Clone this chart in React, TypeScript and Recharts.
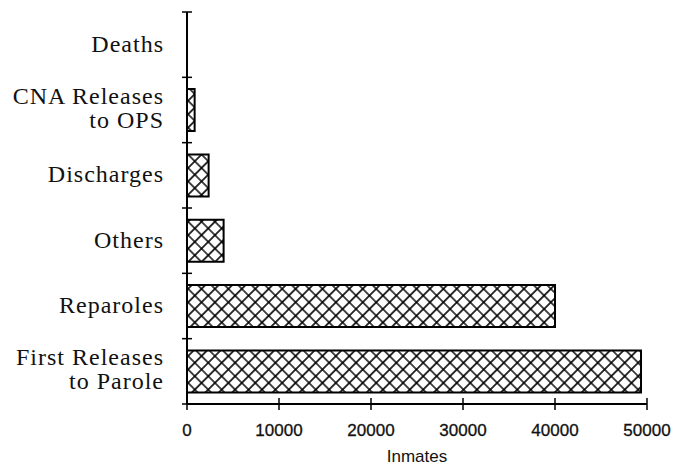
import { BarChart, Bar, XAxis, YAxis } from "recharts";

// release types, top to bottom
const categories = [
  "Deaths",
  "CNA Releases\nto OPS",
  "Discharges",
  "Others",
  "Reparoles",
  "First Releases\nto Parole",
];
const inmates = [0, 830, 2350, 3980, 40000, 49350];
const xTicks = [0, 10000, 20000, 30000, 40000, 50000];
const xLabel = "Inmates";

const data = categories.map((name, i) => ({ name, inmates: inmates[i] }));

const W = 676;
const H = 467;
const MARGIN = { top: 12, right: 29, left: 0, bottom: 0 };
const Y_WIDTH = 187;
const X_HEIGHT = 63;
const BAND = (H - MARGIN.top - MARGIN.bottom - X_HEIGHT) / categories.length;

const serif = "'Liberation Serif', 'Times New Roman', serif";
const sans = "'Liberation Sans', Arial, sans-serif";

function CategoryTick(props: any) {
  const { x, y, payload, index } = props;
  const lines = String(payload.value).split("\n");
  const tx = x - 23;
  return (
    <g>
      <line x1={x - 5} x2={x + 5} y1={y - BAND / 2} y2={y - BAND / 2} stroke="#000" strokeWidth={1.5} />
      {index === categories.length - 1 && (
        <line x1={x - 5} x2={x + 5} y1={y + BAND / 2} y2={y + BAND / 2} stroke="#000" strokeWidth={1.5} />
      )}
      <text
        textAnchor="end"
        fontFamily={serif}
        fontSize={24}
        letterSpacing={1}
        fill="#111"
      >
        {lines.length === 1 ? (
          <tspan x={tx} y={y + 7}>{lines[0]}</tspan>
        ) : (
          lines.map((l, i) => (
            <tspan key={i} x={tx} y={y - 6 + i * 24}>{l}</tspan>
          ))
        )}
      </text>
    </g>
  );
}

function ValueTick(props: any) {
  const { x, y, payload } = props;
  return (
    <g>
      <line x1={x} x2={x} y1={y - 6} y2={y + 6} stroke="#000" strokeWidth={1.5} />
      <text
        x={x}
        y={y + 32}
        textAnchor="middle"
        fontFamily={sans}
        fontSize={17}
        fill="#111"
        stroke="#111"
        strokeWidth={0.3}
      >
        {payload.value}
      </text>
    </g>
  );
}

export default function App() {
  return (
    <div style={{ position: "absolute", left: 0, top: 0, width: W, height: H, background: "#fff" }}>
      <BarChart
        width={W}
        height={H}
        data={data}
        layout="vertical"
        margin={MARGIN}
        barCategoryGap="18%"
      >
        <defs>
          <pattern
            id="crosshatch"
            patternUnits="userSpaceOnUse"
            width={9.5}
            height={9.5}
            patternTransform="rotate(45)"
          >
            <rect width={9.5} height={9.5} fill="#fff" />
            <path d="M4.75 0 V9.5 M0 4.75 H9.5" stroke="#000" strokeWidth={1.6} />
          </pattern>
        </defs>
        <XAxis
          type="number"
          domain={[0, 50000]}
          ticks={xTicks}
          height={X_HEIGHT}
          tickSize={0}
          tickMargin={0}
          tickLine={false}
          axisLine={{ stroke: "#000", strokeWidth: 2 }}
          tick={<ValueTick />}
          interval={0}
          label={{
            value: xLabel,
            position: "insideBottom",
            offset: 5,
            style: { fontFamily: sans, fontSize: 17, fill: "#111" },
          }}
        />
        <YAxis
          type="category"
          dataKey="name"
          width={Y_WIDTH}
          tickSize={0}
          tickMargin={0}
          tickLine={false}
          axisLine={{ stroke: "#000", strokeWidth: 2 }}
          tick={<CategoryTick />}
          interval={0}
        />
        <Bar
          dataKey="inmates"
          fill="url(#crosshatch)"
          stroke="#000"
          strokeWidth={2}
          isAnimationActive={false}
        />
      </BarChart>
    </div>
  );
}
